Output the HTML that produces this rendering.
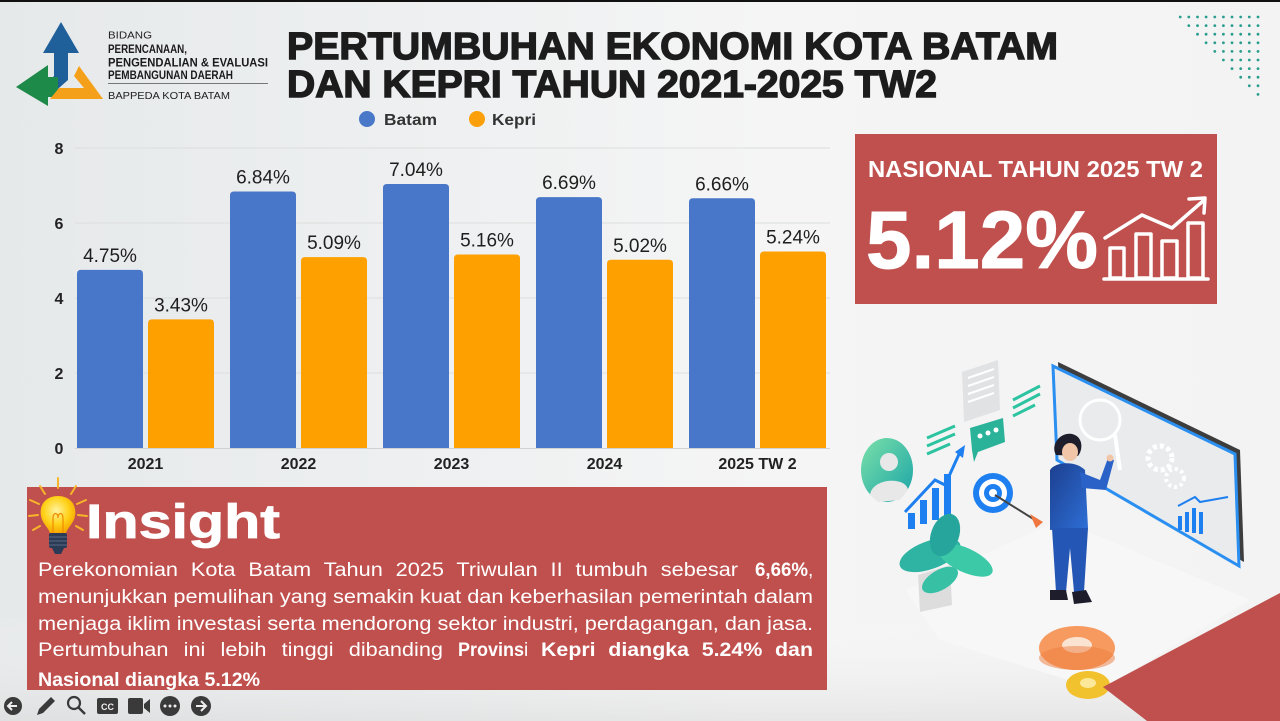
<!DOCTYPE html>
<html>
<head>
<meta charset="utf-8">
<style>
html,body{margin:0;padding:0;width:1280px;height:721px;overflow:hidden;background:#eef0f1;}
svg{display:block;}
text{font-family:"Liberation Sans",Arial,sans-serif;}
</style>
</head>
<body>
<svg width="1280" height="721" viewBox="0 0 1280 721" xmlns="http://www.w3.org/2000/svg">
<defs>
  <linearGradient id="bg" x1="0" y1="0" x2="1" y2="0">
    <stop offset="0" stop-color="#e6e9ea"/>
    <stop offset="0.35" stop-color="#eef0f1"/>
    <stop offset="0.6" stop-color="#f5f5f5"/>
    <stop offset="1" stop-color="#f3f3f3"/>
  </linearGradient>
  <linearGradient id="bgv" x1="0" y1="0" x2="0" y2="1">
    <stop offset="0" stop-color="#ffffff" stop-opacity="0"/>
    <stop offset="0.85" stop-color="#ffffff" stop-opacity="0"/>
    <stop offset="1" stop-color="#d8d8d8" stop-opacity="0.5"/>
  </linearGradient>
  <radialGradient id="bulb" cx="0.45" cy="0.4" r="0.6">
    <stop offset="0" stop-color="#fff3a0"/>
    <stop offset="0.6" stop-color="#ffd21a"/>
    <stop offset="1" stop-color="#f5a800"/>
  </radialGradient>
  <linearGradient id="teal" x1="0" y1="0" x2="1" y2="1">
    <stop offset="0" stop-color="#7be0a8"/>
    <stop offset="1" stop-color="#1aa4a8"/>
  </linearGradient>
  <linearGradient id="suit" x1="0" y1="0" x2="1" y2="1">
    <stop offset="0" stop-color="#1c3f8f"/>
    <stop offset="1" stop-color="#2e6fd6"/>
  </linearGradient>
</defs>

<!-- background -->
<rect x="0" y="0" width="1280" height="721" fill="url(#bg)"/>
<rect x="0" y="0" width="1280" height="721" fill="url(#bgv)"/>
<rect x="0" y="0" width="1280" height="2" fill="#111"/>

<!-- Logo -->
<polygon points="61,22 43,53 54,53 54,76 40,89 51,95 68,80 68,53 79,53" fill="#1f5f9a"/>
<polygon points="16,87 48,65 48,77 58,77 58,97 48,97 48,106" fill="#1e8a4a"/>
<polygon points="79,66 103,99 50,99 59,88 84,88 74,76" fill="#f5a01a"/>
<text x="108" y="38.5" font-size="10" fill="#222" textLength="44" lengthAdjust="spacingAndGlyphs">BIDANG</text>
<text x="108" y="53" font-size="11.5" font-weight="bold" fill="#1a1a1a" textLength="79" lengthAdjust="spacingAndGlyphs">PERENCANAAN,</text>
<text x="108" y="66.5" font-size="11.5" font-weight="bold" fill="#1a1a1a" textLength="160" lengthAdjust="spacingAndGlyphs">PENGENDALIAN &amp; EVALUASI</text>
<text x="108" y="79" font-size="11.5" font-weight="bold" fill="#1a1a1a" textLength="125" lengthAdjust="spacingAndGlyphs">PEMBANGUNAN DAERAH</text>
<rect x="108" y="83" width="160" height="1" fill="#777"/>
<text x="108" y="99" font-size="10.5" fill="#222" textLength="122" lengthAdjust="spacingAndGlyphs">BAPPEDA KOTA BATAM</text>

<!-- Title -->
<text x="287" y="59" font-size="38" font-weight="bold" fill="#1c1c1c" stroke="#1c1c1c" stroke-width="1.4" textLength="771" lengthAdjust="spacingAndGlyphs">PERTUMBUHAN EKONOMI KOTA BATAM</text>
<text x="287" y="97" font-size="38" font-weight="bold" fill="#1c1c1c" stroke="#1c1c1c" stroke-width="1.4" textLength="650" lengthAdjust="spacingAndGlyphs">DAN KEPRI TAHUN 2021-2025 TW2</text>

<!-- Legend -->
<circle cx="367" cy="119" r="8" fill="#4a78c8"/>
<text x="384" y="125" font-size="16" font-weight="bold" fill="#333" textLength="53" lengthAdjust="spacingAndGlyphs">Batam</text>
<circle cx="477" cy="119" r="8" fill="#fba00a"/>
<text x="492" y="125" font-size="16" font-weight="bold" fill="#333" textLength="44" lengthAdjust="spacingAndGlyphs">Kepri</text>

<!-- Dots pattern -->
<g fill="#2a9d8f" id="dots"></g>

<!-- Chart gridlines -->
<g stroke="#dcdede" stroke-width="1">
  <line x1="75" y1="148" x2="830" y2="148"/>
  <line x1="75" y1="223" x2="830" y2="223"/>
  <line x1="75" y1="298" x2="830" y2="298"/>
  <line x1="75" y1="373" x2="830" y2="373"/>
  <line x1="75" y1="448.5" x2="830" y2="448.5" stroke="#d0d2d2"/>
</g>
<g font-size="16" font-weight="bold" fill="#222" text-anchor="middle">
  <text x="59" y="154">8</text>
  <text x="59" y="229">6</text>
  <text x="59" y="304">4</text>
  <text x="59" y="379">2</text>
  <text x="59" y="454">0</text>
</g>

<!-- Bars -->
<g id="bars"></g>
<g font-size="16" font-weight="bold" fill="#222" text-anchor="middle">
  <text x="145.5" y="469">2021</text>
  <text x="298.5" y="469">2022</text>
  <text x="451.5" y="469">2023</text>
  <text x="604.5" y="469">2024</text>
  <text x="757.5" y="469">2025 TW 2</text>
</g>

<!-- Nasional box -->
<rect x="855" y="134" width="362" height="170" fill="#c0504d"/>
<text x="868" y="177" font-size="23" font-weight="bold" fill="#fff" textLength="335" lengthAdjust="spacingAndGlyphs">NASIONAL TAHUN 2025 TW 2</text>
<text x="866" y="268" font-size="82" font-weight="bold" fill="#fff" stroke="#fff" stroke-width="1" textLength="232" lengthAdjust="spacingAndGlyphs">5.12%</text>
<g fill="none" stroke="#fff" stroke-width="3.5" stroke-linejoin="round" stroke-linecap="round">
  <rect x="1110" y="248" width="14" height="30"/>
  <rect x="1136" y="234" width="15" height="44"/>
  <rect x="1162" y="241" width="15" height="37"/>
  <rect x="1188" y="223" width="15" height="55"/>
  <line x1="1104" y1="279" x2="1208" y2="279"/>
  <polyline points="1105,238 1142,215 1172,228 1203,201"/>
  <polyline points="1189,199 1205,198 1204,213"/>
</g>

<!-- Insight box -->
<rect x="27" y="487" width="800" height="203" fill="#c0504d"/>
<!-- bulb -->
<g stroke="#f7b52a" stroke-width="2" stroke-linecap="round">
  <line x1="58" y1="478" x2="58" y2="488"/>
  <line x1="40" y1="486" x2="45" y2="494"/>
  <line x1="76" y1="486" x2="71" y2="494"/>
  <line x1="30" y1="500" x2="39" y2="504"/>
  <line x1="86" y1="500" x2="77" y2="504"/>
  <line x1="29" y1="516" x2="38" y2="515"/>
  <line x1="87" y1="516" x2="78" y2="515"/>
  <line x1="33" y1="530" x2="40" y2="526"/>
  <line x1="83" y1="530" x2="76" y2="526"/>
</g>
<path d="M58,496 C45,496 39,506 41,516 C42,523 48,527 50,533 L66,533 C68,527 74,523 75,516 C77,506 71,496 58,496 Z" fill="url(#bulb)"/>
<path d="M53,533 L53,518 M63,533 L63,518 M53,518 C53,512 58,512 58,518 C58,512 63,512 63,518" stroke="#f08a00" stroke-width="1.2" fill="none"/>
<rect x="49" y="533" width="18" height="15" rx="2" fill="#2b3a55"/>
<g stroke="#5a6a85" stroke-width="1"><line x1="49" y1="537" x2="67" y2="537"/><line x1="49" y1="541" x2="67" y2="541"/><line x1="49" y1="545" x2="67" y2="545"/></g>
<path d="M52,548 L64,548 L61,554 L55,554 Z" fill="#2b3a55"/>
<text x="86" y="538" font-size="48" font-weight="bold" fill="#fff" stroke="#fff" stroke-width="0.8" textLength="194" lengthAdjust="spacingAndGlyphs">Insight</text>

<g font-size="19" fill="#fff">
  <text x="38" y="576" textLength="700" lengthAdjust="spacingAndGlyphs" word-spacing="6">Perekonomian Kota Batam Tahun 2025 Triwulan II tumbuh sebesar</text>
  <text x="755" y="576" font-weight="bold" textLength="53" lengthAdjust="spacingAndGlyphs">6,66%</text>
  <text x="808" y="576">,</text>
  <text x="38" y="603" textLength="775" lengthAdjust="spacingAndGlyphs">menunjukkan pemulihan yang semakin kuat dan keberhasilan pemerintah dalam</text>
  <text x="38" y="630" textLength="775" lengthAdjust="spacingAndGlyphs">menjaga iklim investasi serta mendorong sektor industri, perdagangan, dan jasa.</text>
  <text x="38" y="656" textLength="405" lengthAdjust="spacingAndGlyphs" word-spacing="8">Pertumbuhan ini lebih tinggi dibanding</text>
  <text x="458" y="656" font-weight="bold" textLength="66" lengthAdjust="spacingAndGlyphs">Provins</text>
  <text x="524" y="656">i</text>
  <text x="541" y="656" font-weight="bold" textLength="272" lengthAdjust="spacingAndGlyphs" word-spacing="6">Kepri diangka 5.24% dan</text>
  <text x="38" y="686" font-weight="bold" textLength="222" lengthAdjust="spacingAndGlyphs">Nasional diangka 5.12%</text>
</g>

<!-- toolbar icons -->
<g fill="#3a3a3a">
  <circle cx="13" cy="706" r="9"/>
  <path d="M17,706 L9,706 M12,702 L8,706 L12,710" stroke="#eee" stroke-width="2" fill="none"/>
  <path d="M37,715 L39,709 L51,697 L55,701 L43,713 Z"/>
  <circle cx="74" cy="703" r="6" fill="none" stroke="#3a3a3a" stroke-width="2.2"/>
  <line x1="78" y1="707" x2="85" y2="714" stroke="#3a3a3a" stroke-width="2.5"/>
  <rect x="97" y="698" width="21" height="16" rx="2"/>
  <text x="107.5" y="710" font-size="9" font-weight="bold" fill="#eee" text-anchor="middle">CC</text>
  <rect x="128" y="698" width="15" height="16" rx="2"/>
  <polygon points="144,704 150,699 150,713 144,708"/>
  <circle cx="170" cy="706" r="10"/>
  <circle cx="165" cy="706" r="1.5" fill="#eee"/><circle cx="170" cy="706" r="1.5" fill="#eee"/><circle cx="175" cy="706" r="1.5" fill="#eee"/>
  <circle cx="201" cy="706" r="10"/>
  <path d="M196,706 L205,706 M201,701 L206,706 L201,711" stroke="#eee" stroke-width="2" fill="none"/>
</g>

<!-- Illustration -->
<polygon points="905,590 1060,520 1250,600 1100,690 940,640" fill="#f7f7f7" opacity="0.9"/>
<polygon points="1058,362 1240,450 1244,562 1062,458" fill="#3d3d3d"/>
<polygon points="1053,366 1235,454 1239,566 1057,460" fill="#e9ebed" stroke="#2a8ff0" stroke-width="3"/>
<circle cx="1100" cy="420" r="20" fill="none" stroke="#fff" stroke-width="3"/>
<line x1="1115" y1="435" x2="1120" y2="470" stroke="#fff" stroke-width="4"/>
<circle cx="1160" cy="458" r="12" fill="none" stroke="#fff" stroke-width="5" stroke-dasharray="4 3"/>
<circle cx="1175" cy="478" r="9" fill="none" stroke="#fff" stroke-width="4" stroke-dasharray="3 3"/>
<g fill="#1e7ff0">
  <rect x="1178" y="516" width="4" height="14"/>
  <rect x="1185" y="512" width="4" height="20"/>
  <rect x="1192" y="508" width="4" height="25"/>
  <rect x="1199" y="512" width="4" height="22"/>
</g>
<polyline points="1178,506 1195,497 1200,502 1228,497" fill="none" stroke="#1e7ff0" stroke-width="2"/>
<polygon points="962,372 998,360 1000,410 964,422" fill="#e0e2e4"/>
<g stroke="#fff" stroke-width="2"><line x1="968" y1="378" x2="994" y2="369"/><line x1="968" y1="386" x2="994" y2="377"/><line x1="968" y1="394" x2="994" y2="385"/><line x1="968" y1="402" x2="994" y2="393"/></g>
<g stroke="#2bc3a0" stroke-width="3"><line x1="1013" y1="400" x2="1040" y2="386"/><line x1="1013" y1="408" x2="1040" y2="394"/><line x1="1013" y1="416" x2="1035" y2="405"/>
<line x1="927" y1="438" x2="955" y2="426"/><line x1="927" y1="446" x2="955" y2="434"/><line x1="927" y1="454" x2="950" y2="444"/></g>
<polygon points="970,428 1003,418 1005,442 978,452 974,462 972,450" fill="#2bb39a"/>
<circle cx="980" cy="436" r="2.5" fill="#fff"/><circle cx="988" cy="433" r="2.5" fill="#fff"/><circle cx="996" cy="430" r="2.5" fill="#fff"/>
<ellipse cx="887" cy="470" rx="26" ry="32" fill="url(#teal)"/>
<circle cx="889" cy="462" r="9" fill="#e8e8e8"/>
<path d="M870,495 C872,478 906,476 908,490 L900,500 L878,502 Z" fill="#e8e8e8"/>
<g fill="#1e7ff0">
  <rect x="908" y="513" width="7" height="16"/>
  <rect x="920" y="500" width="7" height="24"/>
  <rect x="932" y="488" width="7" height="32"/>
  <rect x="944" y="474" width="7" height="42"/>
</g>
<polyline points="905,512 935,480 945,485 960,452" fill="none" stroke="#1e7ff0" stroke-width="3"/>
<polygon points="955,452 965,445 963,458" fill="#1e7ff0"/>
<circle cx="993" cy="493" r="20" fill="#1e7ff0"/>
<circle cx="993" cy="493" r="14" fill="#fff"/>
<circle cx="993" cy="493" r="9" fill="#1e7ff0"/>
<circle cx="993" cy="493" r="4" fill="#fff"/>
<line x1="995" y1="495" x2="1035" y2="520" stroke="#444" stroke-width="2"/>
<polygon points="1030,514 1043,522 1036,528" fill="#f07840"/>
<polygon points="918,575 950,565 952,605 920,612" fill="#dddddd"/>
<ellipse cx="930" cy="555" rx="32" ry="14" fill="#2fb3a2" transform="rotate(-20 930 555)"/>
<ellipse cx="965" cy="560" rx="30" ry="12" fill="#3cc9a8" transform="rotate(25 965 560)"/>
<ellipse cx="945" cy="535" rx="14" ry="22" fill="#26a59c" transform="rotate(20 945 535)"/>
<ellipse cx="940" cy="580" rx="20" ry="10" fill="#38c0a5" transform="rotate(-30 940 580)"/>
<path d="M1056,455 C1050,445 1060,432 1072,434 C1082,436 1084,448 1078,456 Z" fill="#1d1d2b"/>
<ellipse cx="1070" cy="452" rx="8" ry="9" fill="#f1c6a8"/>
<path d="M1050,470 C1055,462 1075,460 1085,470 L1088,528 L1050,530 Z" fill="url(#suit)"/>
<path d="M1080,472 L1100,480 L1108,458 L1114,460 L1106,490 L1082,488 Z" fill="#2a62c8"/>
<circle cx="1110" cy="458" r="3.5" fill="#f1c6a8"/>
<path d="M1052,528 L1088,528 L1084,592 L1074,592 L1070,548 L1066,592 L1056,592 Z" fill="#2356b5"/>
<path d="M1050,590 L1066,590 L1068,600 L1050,600 Z M1072,592 L1086,590 L1092,602 L1074,604 Z" fill="#1d1d2b"/>
<ellipse cx="1077" cy="648" rx="38" ry="22" fill="#f79a60"/>
<ellipse cx="1077" cy="645" rx="15" ry="8" fill="#fbe3d2"/>
<ellipse cx="1077" cy="658" rx="38" ry="12" fill="#ec7c3c" opacity="0.5"/>
<ellipse cx="1088" cy="685" rx="22" ry="14" fill="#f2c12e"/>
<ellipse cx="1088" cy="683" rx="8" ry="5" fill="#fbe89a"/>
<polygon points="1103,687 1280,593 1280,721 1147,721" fill="#c0504d"/>

<script>
(function(){
  var ns="http://www.w3.org/2000/svg";
  var g=document.getElementById('dots');
  for(var r=0;r<10;r++){
    for(var k=0;k<10-r;k++){
      var c=document.createElementNS(ns,'circle');
      c.setAttribute('cx',(1258-k*8.65).toFixed(1));
      c.setAttribute('cy',(17+r*8.6).toFixed(1));
      c.setAttribute('r','1.4');
      g.appendChild(c);
    }
  }
  var bars=document.getElementById('bars');
  var batam=[4.75,6.84,7.04,6.69,6.66], kepri=[3.43,5.09,5.16,5.02,5.24];
  var lb=["4.75%","6.84%","7.04%","6.69%","6.66%"], lk=["3.43%","5.09%","5.16%","5.02%","5.24%"];
  function bar(x,v,col,lab){
    var y=448-37.5*v, w=66, r=4;
    var p=document.createElementNS(ns,'path');
    p.setAttribute('d','M'+x+',448 L'+x+','+(y+r)+' Q'+x+','+y+' '+(x+r)+','+y+' L'+(x+w-r)+','+y+' Q'+(x+w)+','+y+' '+(x+w)+','+(y+r)+' L'+(x+w)+',448 Z');
    p.setAttribute('fill',col);
    bars.appendChild(p);
    var t=document.createElementNS(ns,'text');
    t.setAttribute('x',x+w/2);
    t.setAttribute('y',y-8);
    t.setAttribute('font-size','19');
    t.setAttribute('fill','#1e1e1e');
    t.setAttribute('text-anchor','middle');
    t.textContent=lab;
    bars.appendChild(t);
  }
  for(var i=0;i<5;i++){
    var x0=77+153*i;
    bar(x0,batam[i],'#4876c9',lb[i]);
    bar(x0+71,kepri[i],'#fea000',lk[i]);
  }
})();
</script>
</svg>
</body>
</html>
